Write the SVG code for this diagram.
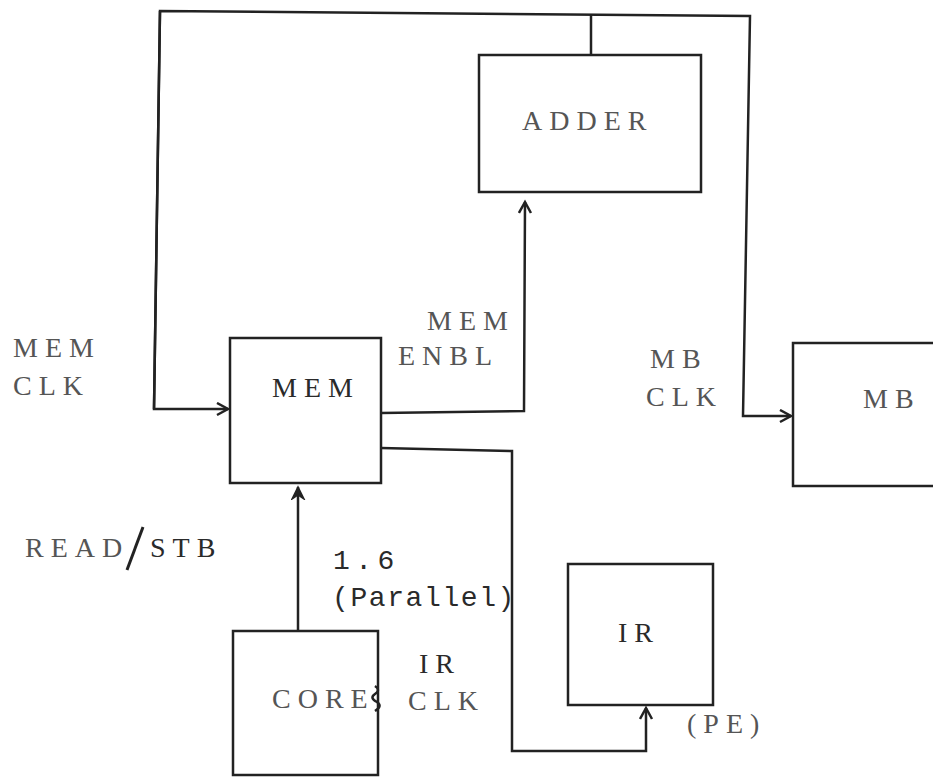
<svg xmlns="http://www.w3.org/2000/svg" width="933" height="780" viewBox="0 0 933 780">
<style>
.box{fill:none;stroke:#222;stroke-width:2.5}
.ln{fill:none;stroke:#222;stroke-width:2.5;stroke-linejoin:miter}
.t{font-family:"Liberation Serif",serif;font-size:28px;letter-spacing:7px;fill:#555}
.d{fill:#2a2a2a}
.m{font-family:"Liberation Mono",monospace;font-size:28px;letter-spacing:1.6px;fill:#2a2a2a}
</style>
<defs>
<marker id="ah" markerUnits="userSpaceOnUse" markerWidth="16" markerHeight="16" refX="13" refY="7" orient="auto">
<path d="M2,1 L13,7 L2,13" fill="none" stroke="#222" stroke-width="2.5"/>
</marker>
<marker id="ahf" markerUnits="userSpaceOnUse" markerWidth="16" markerHeight="16" refX="13" refY="7" orient="auto">
<path d="M1,1 L13,7 L1,13 L5,7 Z" fill="#222" stroke="#222" stroke-width="1.5"/>
</marker>
</defs>
<g id="connectors">
<polyline class="ln" points="591,15 591,55"/>
<polyline class="ln" points="154,409 160,11 750,16 743,416 791,416" marker-end="url(#ah)"/>
<polyline class="ln" points="160,11 154,409 228,409" marker-end="url(#ah)"/>
<polyline class="ln" points="381,413 524,411 525,202" marker-end="url(#ah)"/>
<polyline class="ln" points="381,448 512,451 512,751 646,751 646,708" marker-end="url(#ah)"/>
<polyline class="ln" points="298,631 298,487" marker-end="url(#ahf)"/>
<path class="ln" d="M375,686 q6,4 0,8 q-6,4 2,8 q6,4 -2,9" stroke-width="2"/>
</g>
<g id="adder">
<rect class="box" x="479" y="55" width="222" height="137"/>
<text class="t" x="522" y="130">ADDER</text>
</g>
<g id="mem">
<rect class="box" x="230" y="338" width="151" height="145"/>
<text class="t d" x="272" y="397">MEM</text>
</g>
<g id="mb">
<rect class="box" x="793" y="343" width="150" height="143"/>
<text class="t" x="863" y="408">MB</text>
</g>
<g id="ir">
<rect class="box" x="568" y="564" width="145" height="141"/>
<text class="t d" x="618" y="642">IR</text>
</g>
<g id="core">
<rect class="box" x="233" y="631" width="145" height="144"/>
<text class="t" x="272" y="708">CORE</text>
</g>
<g id="labels">
<text class="t" x="13" y="357">MEM</text>
<text class="t" x="13" y="395">CLK</text>
<text class="t" x="427" y="330">MEM</text>
<text class="t" x="398" y="365">ENBL</text>
<text class="t" x="650" y="368">MB</text>
<text class="t" x="646" y="406">CLK</text>
<text class="t" x="25" y="557">READ</text>
<line x1="143" y1="527" x2="127" y2="570" stroke="#222" stroke-width="3"/>
<text class="t d" x="150" y="557">STB</text>
<text class="m" x="333" y="569" style="letter-spacing:5.5px">1.6</text>
<text class="m" x="332" y="606">(Parallel)</text>
<text class="t d" x="419" y="673">IR</text>
<text class="t" x="408" y="710">CLK</text>
<text class="t" x="687" y="733">(PE)</text>
</g>
</svg>
